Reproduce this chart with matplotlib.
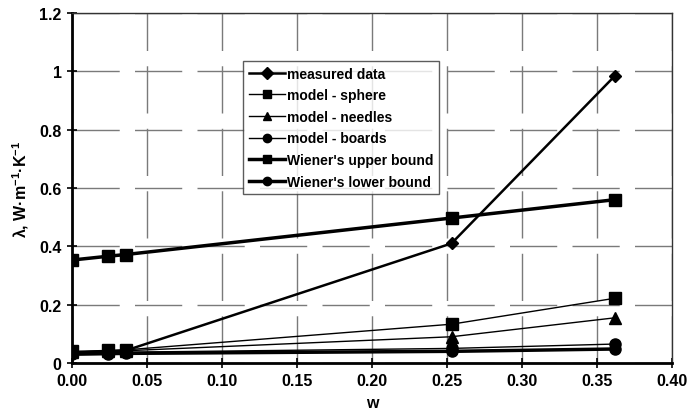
import numpy as np
import matplotlib.pyplot as plt

plt.rcParams['font.family'] = ['Liberation Sans', 'DejaVu Sans']
plt.rcParams['font.weight'] = 'bold'
plt.rcParams['mathtext.fontset'] = 'custom'
plt.rcParams['mathtext.rm'] = 'Liberation Sans:bold'
plt.rcParams['mathtext.bf'] = 'Liberation Sans:bold'
plt.rcParams['mathtext.default'] = 'bf'

## data
w = [0.0, 0.024, 0.036, 0.253, 0.362]
measured = [0.035, 0.040, 0.043, 0.41, 0.985]
sphere = [0.040, 0.043, 0.045, 0.133, 0.222]
needles = [0.038, 0.040, 0.042, 0.090, 0.155]
boards = [0.034, 0.036, 0.037, 0.050, 0.065]
wiener_up = [0.353, 0.366, 0.372, 0.497, 0.560]
wiener_low = [0.030, 0.032, 0.033, 0.040, 0.048]

xticks = [0.0, 0.05, 0.10, 0.15, 0.20, 0.25, 0.30, 0.35, 0.40]
yticks = [0, 0.2, 0.4, 0.6, 0.8, 1.0, 1.2]
ylabels = ['0', '0.2', '0.4', '0.6', '0.8', '1', '1.2']

## figure
fig = plt.figure(figsize=(6.88, 4.14), dpi=100)
ax = fig.add_axes([72/688, 1-364/414, 600/688, 350/414])

k = 'black'
ax.plot(w, boards, '-o', color=k, lw=1.0, ms=8, label='model - boards')
ax.plot(w, needles, '-^', color=k, lw=1.0, ms=8, label='model - needles')
ax.plot(w, sphere, '-s', color=k, lw=1.0, ms=8, label='model - sphere')
ax.plot(w, wiener_low, '-o', color=k, lw=2.5, ms=8, label="Wiener's lower bound")
ax.plot(w, wiener_up, '-s', color=k, lw=2.5, ms=9, label="Wiener's upper bound")
ax.plot(w, measured, '-D', color=k, lw=1.8, ms=6, label='measured data')

ax.set_xlim(0, 0.4)
ax.set_ylim(0, 1.2)
ax.set_xticks(xticks)
ax.set_xticklabels(['%.2f' % x for x in xticks])
ax.set_yticks(yticks)
ax.set_yticklabels(ylabels)
ax.tick_params(labelsize=11.5, direction='inout', length=7, width=1.2, pad=4)
ax.grid(True, color='#7a7a7a', lw=1.0, dashes=(34, 11))
ax.set_axisbelow(True)
for s in ['left', 'bottom']:
    ax.spines[s].set_linewidth(2)
for s in ['top', 'right']:
    ax.spines[s].set_linewidth(1)
    ax.spines[s].set_color('#333333')

ax.set_xlabel('w', fontsize=11.5, fontweight='bold', labelpad=5)
ax.set_ylabel('λ, W·m$^{-1}$·K$^{-1}$', fontsize=11.5, fontweight='bold', labelpad=6)

h, l = ax.get_legend_handles_labels()
order = [5, 2, 1, 0, 4, 3]
leg = ax.legend([h[i] for i in order], [l[i] for i in order],
                loc='upper left', bbox_to_anchor=(171/600, 1-48/350),
                fontsize=10, frameon=True, fancybox=False, handlelength=2.6,
                handletextpad=0.2, borderpad=0.4, labelspacing=0.55,
                borderaxespad=0)
leg.get_frame().set_edgecolor('#333333')
leg.get_frame().set_linewidth(1)
for lh in leg.legend_handles:
    lh.set_markersize(6)

plt.savefig('out.png', dpi=100)
